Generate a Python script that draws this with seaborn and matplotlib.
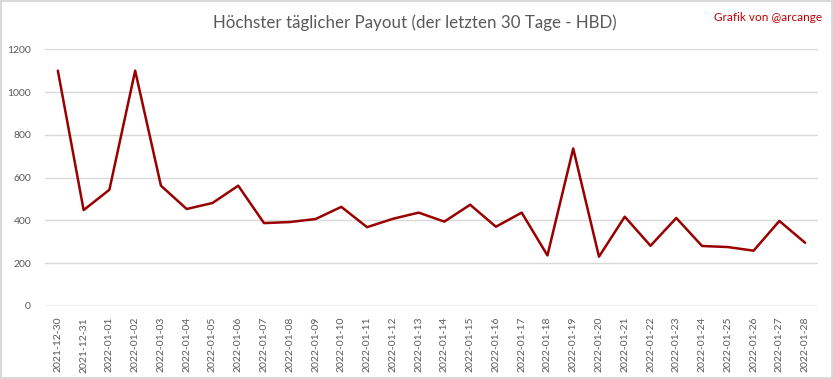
import matplotlib
matplotlib.use('Agg')
import matplotlib.pyplot as plt
import seaborn as sns
import pandas as pd

# Data
dates = [
    '2021-12-30', '2021-12-31', '2022-01-01', '2022-01-02', '2022-01-03',
    '2022-01-04', '2022-01-05', '2022-01-06', '2022-01-07', '2022-01-08',
    '2022-01-09', '2022-01-10', '2022-01-11', '2022-01-12', '2022-01-13',
    '2022-01-14', '2022-01-15', '2022-01-16', '2022-01-17', '2022-01-18',
    '2022-01-19', '2022-01-20', '2022-01-21', '2022-01-22', '2022-01-23',
    '2022-01-24', '2022-01-25', '2022-01-26', '2022-01-27', '2022-01-28',
]
payout = [
    1100, 448, 543, 1100, 562,
    453, 481, 562, 387, 392,
    406, 463, 368, 407, 436,
    394, 473, 370, 436, 236,
    736, 230, 417, 281, 411,
    280, 275, 258, 397, 295,
]
y_ticks = [0, 200, 400, 600, 800, 1000, 1200]

title = 'Höchster täglicher Payout (der letzten 30 Tage - HBD)'
credit = 'Grafik von @arcange'

df = pd.DataFrame({'date': dates, 'payout': payout})

sns.set_style('white')
plt.rcParams['font.family'] = ['Lato', 'DejaVu Sans']

text_gray = '#595959'
grid_gray = '#D9D9D9'

fig = plt.figure(figsize=(8.33, 3.79), dpi=100)
fig.patch.set_facecolor('white')
fig.patch.set_edgecolor('#D9D9D9')
fig.patch.set_linewidth(1.5)

ax = fig.add_axes([0.054, 0.193, 0.928, 0.677])
sns.lineplot(data=df, x='date', y='payout', sort=False, color='#990000',
             linewidth=1.8, ax=ax)

ax.set_xlim(-0.5, len(dates) - 0.5)
ax.set_ylim(0, 1200)
ax.set_yticks(y_ticks)
ax.set_yticklabels([str(v) for v in y_ticks])
ax.yaxis.grid(True, color=grid_gray, linewidth=1)
ax.set_axisbelow(True)
for s in ax.spines.values():
    s.set_visible(False)
ax.axhline(0, color=grid_gray, linewidth=1, zorder=0)

ax.set_xlabel('')
ax.set_ylabel('')
ax.tick_params(axis='x', rotation=90, labelsize=7.5, colors=text_gray,
               length=0, pad=8)
ax.tick_params(axis='y', labelsize=7.5, colors=text_gray, length=0, pad=10)

fig.text(0.498, 0.94, title, ha='center', va='center', fontsize=12.2,
         color=text_gray)
fig.text(0.987, 0.955, credit, ha='right', va='center', fontsize=8.5,
         color='#C00000')

fig.savefig('out.png', dpi=100, facecolor=fig.get_facecolor(),
            edgecolor=fig.get_edgecolor())
plt.close(fig)
